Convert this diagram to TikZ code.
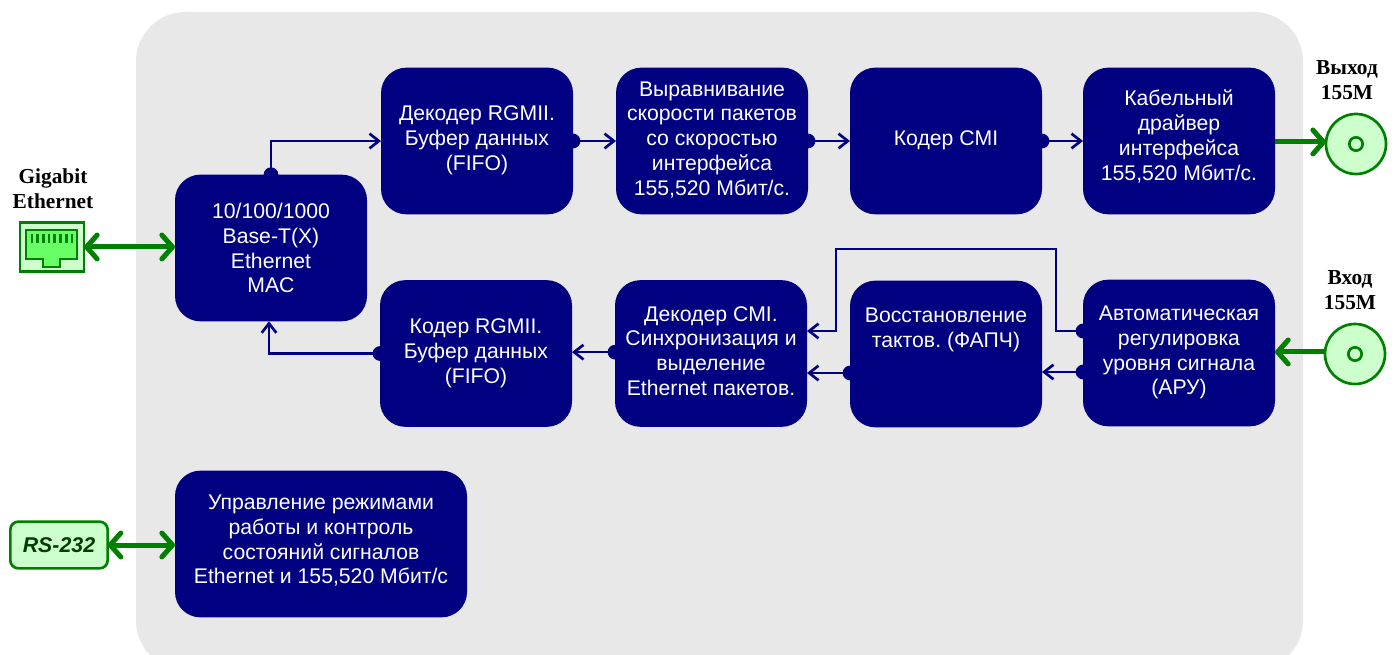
\documentclass[tikz,border=0pt]{standalone}
\usepackage{fontspec}
\setmainfont{Liberation Sans}
\newfontfamily\labelfont{Liberation Serif}
\usetikzlibrary{arrows.meta}
\definecolor{panelgray}{HTML}{E8E8E8}
\definecolor{boxblue}{HTML}{000080}
\definecolor{portgreen}{HTML}{008000}
\definecolor{portfill}{HTML}{CCFFCC}
\definecolor{jackfill}{HTML}{66FF66}
\definecolor{rstext}{HTML}{003C00}
\tikzset{
	block/.style={fill=boxblue, text=white, rounded corners=19pt, minimum width=144pt, minimum height=110pt, inner sep=0pt, outer sep=0pt, align=center, font=\fontsize{15.9}{18.6}\selectfont\frenchspacing, text depth=4pt},
	flow/.style={draw=boxblue, line width=2pt, {Circle[length=11pt,sep=-5.5pt]}-{Straight Barb[length=7pt,width=11pt]}},
	link/.style={draw=portgreen, line width=3.75pt, -{Straight Barb[length=8pt,width=18pt,round]}},
	linkboth/.style={draw=portgreen, line width=3.75pt, {Straight Barb[length=8pt,width=18pt,round]}-{Straight Barb[length=8pt,width=18pt,round]}},
	coax/.style={circle, draw=portgreen, fill=portfill, line width=2pt, minimum size=45pt, inner sep=0pt, outer sep=0pt},
	hole/.style={circle, draw=portgreen, line width=2pt, minimum size=10pt, inner sep=0pt},
	caption/.style={font=\labelfont\bfseries\fontsize{16}{18.6}\selectfont, align=center, inner sep=0pt}
}
\begin{document}
\begin{tikzpicture}[x=0.75pt, y=-0.75pt]
	\useasboundingbox (0,0) rectangle (1398,655);
	% Panel
	\fill[panelgray, rounded corners=37pt] (136,12) rectangle (1303,670);

	% Upper row
	\node[block] (decrgmii) at (477,141) {Декодер RGMII.\\Буфер данных\\(FIFO)};
	\node[block] (speed) at (712,141) {Выравнивание\\скорости пакетов\\со скоростью\\интерфейса\\155,520 Мбит/с.};
	\node[block] (cmicoder) at (946,141) {Кодер CMI};
	\node[block, text depth=9pt] (cable) at (1179,141) {Кабельный\\драйвер\\интерфейса\\155,520 Мбит/с.};

	% MAC
	\node[block, text depth=0pt] (mac) at (271,248) {10/100/1000\\Base-T(X)\\Ethernet\\MAC};

	% Lower row
	\node[block] (coderrgmii) at (476,353.5) {Кодер RGMII.\\Буфер данных\\(FIFO)};
	\node[block] (deccmi) at (711,353.5) {Декодер CMI.\\Синхронизация и\\выделение\\Ethernet пакетов.};
	\node[block, text depth=40pt] (restore) at (946,354) {Восстановление\\тактов. (ФАПЧ)};
	\node[block] (agc) at (1179,353) {Автоматическая\\регулировка\\уровня сигнала\\(АРУ)};

	% Control
	\node[block, minimum width=219pt, text depth=7pt] (control) at (321,544) {Управление режимами\\работы и контроль\\состояний сигналов\\Ethernet и 155,520 Мбит/с};

	% Ports
	\node[coax] (out) at (1356,144) {};
	\node[coax] (in) at (1355,354) {};
	\node[hole] (outhole) at (out) {};
	\node[hole] (inhole) at (in) {};
	\node[caption] (outlabel) at (1347,80) {Выход\\155М};
	\node[caption] (inlabel) at (1350,290) {Вход\\155М};
	\node[caption] (gigelabel) at (53,189) {Gigabit\\Ethernet};
	\node[draw=portgreen, fill=portfill, line width=2pt, rounded corners=6pt, minimum width=73pt, minimum height=35pt, inner sep=0pt, outer sep=0pt, text=rstext, font=\bfseries\itshape\fontsize{16}{18}\selectfont] (rs) at (59,545) {RS-232};
	\node[draw=portgreen, fill=portfill, line width=2pt, minimum width=48pt, minimum height=37pt, inner sep=0pt, outer sep=0pt] (jack) at (52,247) {};

	% Jack
	\draw[portgreen, fill=jackfill, line width=1.5pt] (26,230) -- (77,230) -- (77,259) -- (60,259) -- (60,267) -- (43,267) -- (43,259) -- (26,259) -- cycle;
	\foreach \x in {32,37.7,...,72}
		\draw[portgreen, line width=2pt] (\x,234) -- (\x,243);

	% Upper connectors
	\draw[flow] (mac.north) |- (decrgmii.west);
	\draw[flow] (decrgmii.east) -- (speed.west);
	\draw[flow] (speed.east) -- (cmicoder.west);
	\draw[flow] (cmicoder.east) -- (cable.west);

	% Lower connectors
	\draw[flow] ([yshift=-14.25pt]agc.west) -- ([yshift=-14.25pt]agc.west -| restore.east);
	\draw[flow] ([yshift=-14.25pt]restore.west) -- ([yshift=-14.25pt]restore.west -| deccmi.east);
	\draw[flow] ([yshift=1pt]deccmi.west) -- ([yshift=1pt]coderrgmii.east);
	\draw[flow] (coderrgmii.west) -| ([xshift=-1.5pt]mac.south);
	\draw[flow] ([yshift=16.5pt]agc.west) -- ++(-27,0) -- ++(0,-82) -- ++(-220,0) -- ++(0,82) -- ([yshift=16.5pt]agc.west -| deccmi.east);

	% Port connectors
	\draw[linkboth] (jack.east) -- (jack.east -| mac.west);
	\draw[linkboth] (rs.east) -- (rs.east -| control.west);
	\draw[link] ([yshift=1.5pt]out.west -| cable.east) -- ([yshift=1.5pt]out.west);
	\draw[link] ([yshift=1.5pt]in.west) -- ([yshift=1.5pt]in.west -| agc.east);
\end{tikzpicture}
\end{document}
